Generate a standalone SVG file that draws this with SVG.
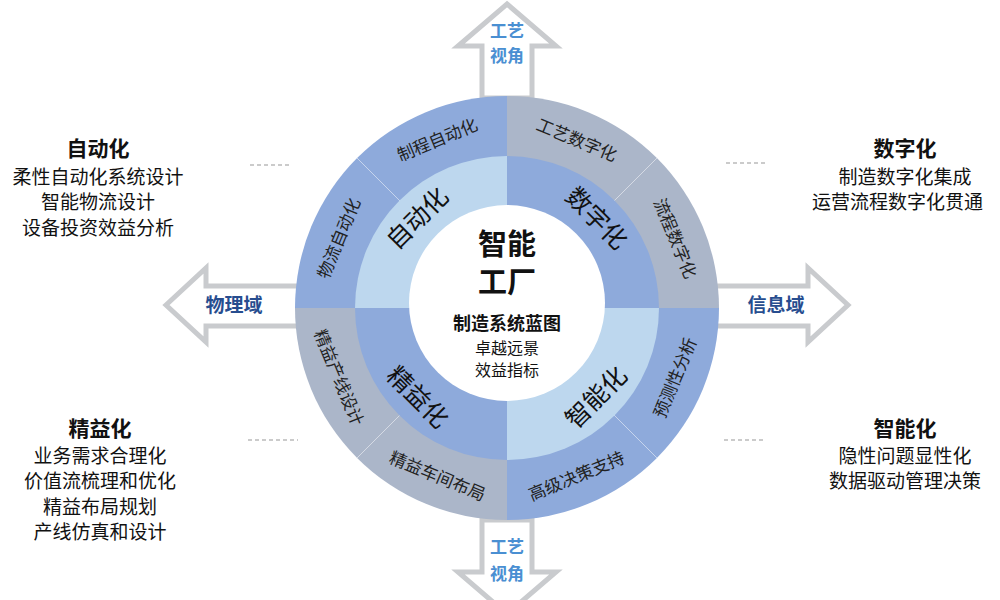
<svg xmlns="http://www.w3.org/2000/svg" width="1000" height="600" viewBox="0 0 1000 600">
<style>
text{font-family:"Noto Sans CJK SC","Liberation Sans",sans-serif;text-anchor:middle;fill:#111}
.arr{fill:#fff;stroke:#c9cbce;stroke-width:5;stroke-linejoin:miter}
.av{fill:#4a8fd2;font-weight:bold;font-size:17px}
.ah{fill:#274d8f;font-weight:bold;font-size:19px}
.o{font-size:17px;fill:#222}
.i{font-size:25px;fill:#111}
.h{font-size:21px;font-weight:bold}
.b{font-size:19px}
.d{stroke:#bbb;stroke-width:1.5;stroke-dasharray:4 3;fill:none}
</style>
<rect width="1000" height="600" fill="#fff"/>
<g id="arrows">
<path class="arr" d="M507,4 L556,46 L532,46 L532,98 L482,98 L482,46 L458,46 Z"/>
<path class="arr" d="M482,520 L532,520 L532,572 L556,572 L507,614 L458,572 L482,572 Z"/>
<path class="arr" d="M166,305 L206,268 L206,286 L300,286 L300,326 L206,326 L206,342 Z"/>
<path class="arr" d="M848,305 L808,268 L808,286 L714,286 L714,326 L808,326 L808,342 Z"/>
<text class="av" x="507" y="37">工艺</text><text class="av" x="507" y="62">视角</text>
<text class="av" x="507" y="553">工艺</text><text class="av" x="507" y="580">视角</text>
<text class="ah" x="234" y="312">物理域</text>
<text class="ah" x="776" y="312">信息域</text>
</g>
<g id="connectors">
<line class="d" x1="250" y1="165" x2="292" y2="165"/>
<line class="d" x1="726" y1="163" x2="766" y2="163"/>
<line class="d" x1="248" y1="440" x2="298" y2="440"/>
<line class="d" x1="724" y1="440" x2="766" y2="440"/>
</g>
<g id="wheel">
<path d="M507,308 L295,308 A212,212 0 0 1 507,96 Z" fill="#8eaadb"/>
<path d="M507,308 L507,96 A212,212 0 0 1 719,308 Z" fill="#abb6c9"/>
<path d="M507,308 L719,308 A212,212 0 0 1 507,520 Z" fill="#8eaadb"/>
<path d="M507,308 L507,520 A212,212 0 0 1 295,308 Z" fill="#abb6c9"/>
<g stroke="#fff" stroke-width="1" opacity="0.5">
<line x1="357" y1="158" x2="400" y2="201"/><line x1="657" y1="158" x2="614" y2="201"/>
<line x1="357" y1="458" x2="400" y2="415"/><line x1="657" y1="458" x2="614" y2="415"/>
</g>
<path d="M507,308 L355,308 A152,152 0 0 1 507,156 Z" fill="#bdd7ee"/>
<path d="M507,308 L507,156 A152,152 0 0 1 659,308 Z" fill="#8eaadb"/>
<path d="M507,308 L659,308 A152,152 0 0 1 507,460 Z" fill="#bdd7ee"/>
<path d="M507,308 L507,460 A152,152 0 0 1 355,308 Z" fill="#8eaadb"/>
<circle cx="507" cy="303" r="98" fill="#fff"/>
</g>
<g id="outer-labels">
<text class="o" x="507" y="132" transform="rotate(-22.5 507 308)">制程自动化</text>
<text class="o" x="507" y="132" transform="rotate(-67.5 507 308)">物流自动化</text>
<text class="o" x="507" y="132" transform="rotate(22.5 507 308)">工艺数字化</text>
<text class="o" x="507" y="132" transform="rotate(67.5 507 308)">流程数字化</text>
<text class="o" x="507" y="496" transform="rotate(22.5 507 308)">精益车间布局</text>
<text class="o" x="507" y="496" transform="rotate(67.5 507 308)">精益产线设计</text>
<text class="o" x="507" y="496" transform="rotate(-22.5 507 308)">高级决策支持</text>
<text class="o" x="507" y="496" transform="rotate(-67.5 507 308)">预测性分析</text>
</g>
<g id="inner-labels">
<text class="i" x="507" y="190" transform="rotate(-45 507 308)">自动化</text>
<text class="i" x="507" y="190" transform="rotate(45 507 308)">数字化</text>
<text class="i" x="507" y="443" transform="rotate(45 507 308)">精益化</text>
<text class="i" x="507" y="443" transform="rotate(-45 507 308)">智能化</text>
</g>
<g id="center">
<text x="507" y="255" font-size="29" font-weight="bold">智能</text>
<text x="507" y="293" font-size="29" font-weight="bold">工厂</text>
<text x="507" y="330" font-size="18" font-weight="bold">制造系统蓝图</text>
<text x="507" y="354" font-size="16">卓越远景</text>
<text x="507" y="376" font-size="16">效益指标</text>
</g>
<g id="side-tl"><text class="h" x="98" y="156">自动化</text><text class="b" x="98" y="184">柔性自动化系统设计</text><text class="b" x="98" y="209">智能物流设计</text><text class="b" x="98" y="235">设备投资效益分析</text></g>
<g id="side-tr"><text class="h" x="905" y="156">数字化</text><text class="b" x="905" y="184">制造数字化集成</text><text class="b" x="812" y="209" style="text-anchor:start">运营流程数字化贯通</text></g>
<g id="side-bl"><text class="h" x="100" y="436">精益化</text><text class="b" x="100" y="463">业务需求合理化</text><text class="b" x="100" y="488">价值流梳理和优化</text><text class="b" x="100" y="514">精益布局规划</text><text class="b" x="100" y="539">产线仿真和设计</text></g>
<g id="side-br"><text class="h" x="905" y="436">智能化</text><text class="b" x="905" y="463">隐性问题显性化</text><text class="b" x="905" y="488">数据驱动管理决策</text></g>
</svg>
